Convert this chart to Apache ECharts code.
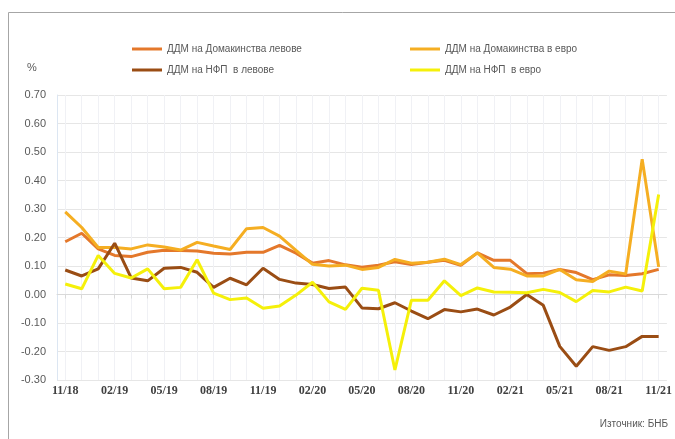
<!DOCTYPE html>
<html>
<head>
<meta charset="utf-8">
<script src="https://cdn.jsdelivr.net/npm/echarts@6/dist/echarts.min.js"></script>
<style>
  html, body { margin: 0; padding: 0; background: #fff; }
  #chart { width: 675px; height: 439px; }
</style>
</head>
<body>
<div id="chart"></div>
<script>
const months = [
  '11/18', '12/18', '01/19', '02/19', '03/19', '04/19', '05/19', '06/19', '07/19', '08/19',
  '09/19', '10/19', '11/19', '12/19', '01/20', '02/20', '03/20', '04/20', '05/20', '06/20',
  '07/20', '08/20', '09/20', '10/20', '11/20', '12/20', '01/21', '02/21', '03/21', '04/21',
  '05/21', '06/21', '07/21', '08/21', '09/21', '10/21', '11/21',
]

const householdsBgn = [
  0.185, 0.215, 0.16, 0.137, 0.133, 0.148, 0.155, 0.154, 0.153, 0.145,
  0.142, 0.148, 0.148, 0.172, 0.145, 0.11, 0.119, 0.104, 0.096, 0.103,
  0.115, 0.105, 0.113, 0.12, 0.102, 0.146, 0.12, 0.12, 0.073, 0.075,
  0.088, 0.077, 0.052, 0.069, 0.067, 0.073, 0.088,
]

const householdsEur = [
  0.29, 0.235, 0.165, 0.165, 0.16, 0.174, 0.167, 0.156, 0.183, 0.17,
  0.158, 0.231, 0.235, 0.205, 0.155, 0.106, 0.1, 0.103, 0.088, 0.095,
  0.123, 0.11, 0.113, 0.124, 0.105, 0.146, 0.095, 0.089, 0.065, 0.065,
  0.088, 0.052, 0.046, 0.082, 0.072, 0.475, 0.097,
]

const corporatesBgn = [
  0.086, 0.065, 0.09, 0.18, 0.058, 0.048, 0.092, 0.095, 0.078, 0.025,
  0.057, 0.034, 0.092, 0.053, 0.04, 0.035, 0.021, 0.026, -0.047, -0.05,
  -0.029, -0.058, -0.085, -0.053, -0.061, -0.051, -0.072, -0.044, 0.0, -0.038,
  -0.182, -0.252, -0.183, -0.196, -0.183, -0.147, -0.147,
]

const corporatesEur = [
  0.037, 0.02, 0.137, 0.074, 0.058, 0.09, 0.02, 0.025, 0.122, 0.005,
  -0.018, -0.012, -0.048, -0.04, -0.002, 0.043, -0.026, -0.052, 0.022, 0.015,
  -0.265, -0.02, -0.02, 0.048, -0.004, 0.023, 0.009, 0.008, 0.006, 0.018,
  0.007, -0.025, 0.014, 0.009, 0.026, 0.012, 0.351,
]

const names = [
  'ДДМ на Домакинства левове',
  'ДДМ на Домакинства в евро',
  'ДДМ на НФП  в левове',
  'ДДМ на НФП  в евро',
]

const colors = ['#E4782B', '#F5AE22', '#9A4D14', '#F5F00A']

function lineSeries(name, data) {
  return {
    name,
    type: 'line',
    data,
    symbol: 'none',
    showSymbol: false,
    lineStyle: { width: 3 },
    emphasis: { disabled: true },
  }
}

const chart = echarts.init(document.getElementById('chart'))

const legendText = {
  color: '#595959',
  fontSize: 10,
  fontFamily: '"Liberation Sans Narrow", Arial, "Liberation Sans", sans-serif',
}

const legendBase = {
  top: 39,
  orient: 'vertical',
  itemGap: 11,
  itemWidth: 30,
  itemHeight: 3,
  icon: 'rect',
  textStyle: legendText,
}

chart.setOption({
  animation: false,
  color: colors,
  textStyle: { fontFamily: 'Arial, "Liberation Sans", sans-serif' },
  grid: { left: 57, right: 8, top: 95, bottom: 59 },
  legend: [
    { ...legendBase, left: 127, data: [names[0], names[2]] },
    { ...legendBase, left: 405, data: [names[1], names[3]] },
  ],
  xAxis: [
    {
      type: 'category',
      data: months,
      boundaryGap: true,
      axisLine: { onZero: false, show: false },
      axisTick: { show: false },
      axisLabel: {
        interval: 2,
        color: '#404040',
        fontSize: 12,
        margin: 5,
        fontFamily: '"Liberation Serif", "DejaVu Serif", serif',
        fontWeight: 'bold',
      },
      splitLine: {
        show: true,
        alignWithLabel: true,
        interval: 0,
        lineStyle: { color: '#F0F1F5', width: 1 },
      },
    },
    {
      type: 'category',
      data: months,
      boundaryGap: true,
      position: 'bottom',
      axisLine: { onZero: true, lineStyle: { color: '#D9D9D9' } },
      axisTick: {
        show: true,
        alignWithLabel: true,
        interval: 0,
        length: 4,
        lineStyle: { color: '#D9D9D9' },
      },
      axisLabel: { show: false },
      splitLine: { show: false },
    },
  ],
  yAxis: {
    type: 'value',
    min: -0.3,
    max: 0.7,
    interval: 0.1,
    axisLine: { show: true, lineStyle: { color: '#DCE6F2' } },
    axisTick: { show: false },
    axisLabel: {
      color: '#595959',
      fontSize: 11,
      margin: 11,
      formatter: (v) => v.toFixed(2),
    },
    splitLine: { lineStyle: { color: '#E6E6E6' } },
  },
  graphic: [
    {
      type: 'rect',
      shape: { x: 8.5, y: 12.5, width: 700, height: 460 },
      style: { fill: 'none', stroke: '#A6A6A6', lineWidth: 1 },
      silent: true,
    },
    {
      type: 'text',
      left: 27,
      top: 62,
      style: { text: '%', fill: '#595959', fontSize: 11 },
    },
    {
      type: 'text',
      right: 7,
      top: 419,
      style: {
        text: 'Източник: БНБ',
        fill: '#595959',
        fontSize: 10,
        fontFamily: '"Liberation Sans Narrow", Arial, sans-serif',
      },
    },
  ],
  series: [
    lineSeries(names[0], householdsBgn),
    lineSeries(names[1], householdsEur),
    lineSeries(names[2], corporatesBgn),
    lineSeries(names[3], corporatesEur),
  ],
})
</script>
</body>
</html>
